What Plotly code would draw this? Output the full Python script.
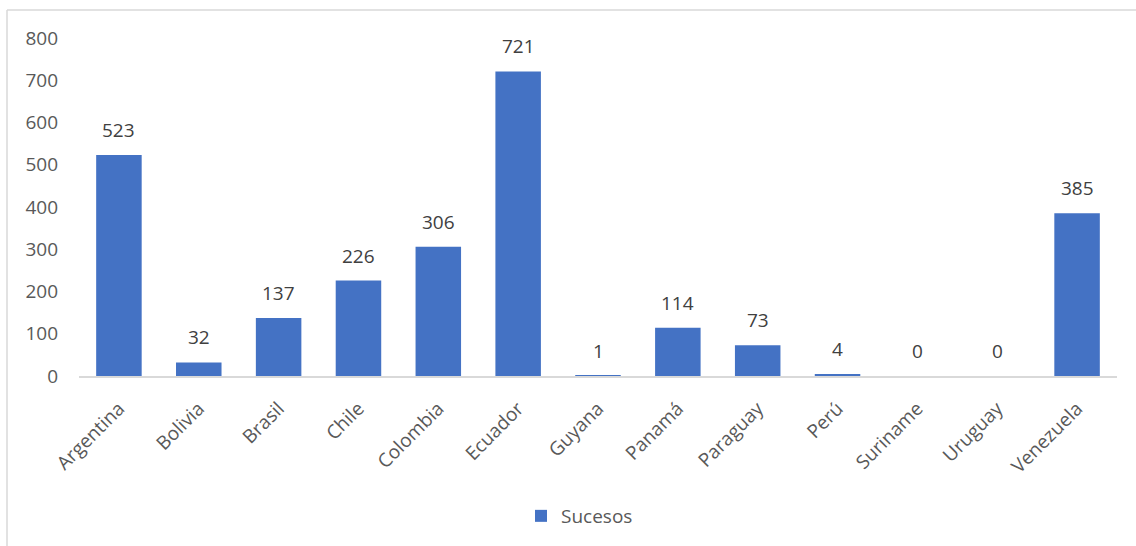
import plotly.graph_objects as go

countries = ["Argentina", "Bolivia", "Brasil", "Chile", "Colombia", "Ecuador", "Guyana",
             "Panamá", "Paraguay", "Perú", "Suriname", "Uruguay", "Venezuela"]
sucesos = [523, 32, 137, 226, 306, 721, 1, 114, 73, 4, 0, 0, 385]
series_name = "Sucesos"
y_ticks = [0, 100, 200, 300, 400, 500, 600, 700, 800]

W, H = 1136, 546
L, R, T, B = 79, 19, 38, 169
pw, ph = W - L - R, H - T - B

FONT = "Open Sans"
fig = go.Figure()
fig.add_trace(go.Bar(
    x=countries, y=sucesos, name=series_name,
    marker=dict(color="#4472C4", line=dict(width=0)),
    showlegend=True,
))

for c, v in zip(countries, sucesos):
    fig.add_annotation(x=c, y=v, text=str(v), showarrow=False,
                       yanchor="bottom", yshift=10,
                       font=dict(family=FONT, size=19, color="#404040"))

# chart border (left and top edges)
fx0 = (7 - L) / pw
fy1 = (H - B - 10) / ph
fig.add_shape(type="line", xref="paper", yref="paper", x0=fx0, x1=fx0, y0=fy1, y1=-1,
              line=dict(color="#D9D9D9", width=1.5))
fig.add_shape(type="line", xref="paper", yref="paper", x0=fx0, x1=1.2, y0=fy1, y1=fy1,
              line=dict(color="#D9D9D9", width=1.5))

fig.update_layout(
    width=W, height=H,
    margin=dict(l=L, r=R, t=T, b=B),
    paper_bgcolor="white", plot_bgcolor="white",
    bargap=0.43,
    font=dict(family=FONT, size=19, color="#595959"),
    xaxis=dict(showline=True, linecolor="#D9D9D9", linewidth=2, tickangle=-45,
               ticks="", showgrid=False, zeroline=False, ticklabelstandoff=12,
               tickfont=dict(family=FONT, size=19, color="#595959")),
    yaxis=dict(range=[0, 800], tickvals=y_ticks, showgrid=False, zeroline=False,
               showline=False, ticks="", ticklabelstandoff=20,
               tickfont=dict(family=FONT, size=19, color="#595959")),
    legend=dict(orientation="h", x=(521 - L) / pw, xanchor="left",
                y=(H - B - 516) / ph, yanchor="middle", itemwidth=30,
                font=dict(family=FONT, size=19, color="#595959")),
)

fig.write_html("out.html")
